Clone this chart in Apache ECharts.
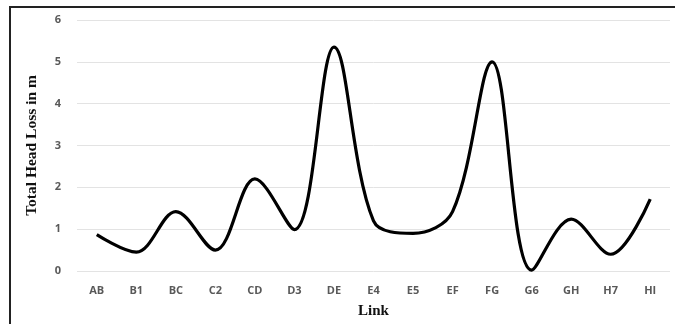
<!DOCTYPE html>
<html>
<head>
<meta charset="utf-8">
<script src="https://cdn.jsdelivr.net/npm/echarts@6/dist/echarts.min.js"></script>
<style>
html,body{margin:0;padding:0;background:#fff;}
#c{width:675px;height:324px;}
</style>
</head>
<body>
<div id="c"></div>
<script>
var categories = ['AB','B1','BC','C2','CD','D3','DE','E4','E5','EF','FG','G6','GH','H7','HI'];
var headLoss = [0.87, 0.45, 1.42, 0.5, 2.2, 0.99, 5.35, 1.2, 0.9, 1.42, 5.0, 0.02, 1.24, 0.4, 1.72];
var yTicks = [0, 1, 2, 3, 4, 5, 6];

var chart = echarts.init(document.getElementById('c'));
chart.setOption({
  animation: false,
  backgroundColor: '#fff',
  graphic: [{
    type: 'rect',
    shape: {x: 10, y: 7, width: 700, height: 400},
    style: {fill: 'none', stroke: '#222', lineWidth: 2},
    silent: true,
    z: 100
  }],
  grid: {left: 77, right: 5, top: 20, bottom: 52},
  xAxis: {
    type: 'category',
    data: categories,
    boundaryGap: true,
    axisLine: {show: false},
    axisTick: {show: false},
    axisLabel: {color: '#595959', fontFamily: 'Open Sans', fontWeight: 'bold', fontSize: 11, margin: 14},
    name: 'Link',
    nameLocation: 'middle',
    nameGap: 33,
    nameTextStyle: {fontFamily: 'Liberation Serif', fontWeight: 'bold', fontSize: 15, color: '#111'}
  },
  yAxis: {
    type: 'value',
    min: yTicks[0],
    max: yTicks[yTicks.length - 1],
    interval: 1,
    axisLine: {show: false},
    axisTick: {show: false},
    splitLine: {lineStyle: {color: '#e3e3e3', width: 1}},
    axisLabel: {color: '#595959', fontFamily: 'Open Sans', fontWeight: 'bold', fontSize: 11, margin: 16},
    name: 'Total Head Loss in m',
    nameLocation: 'middle',
    nameGap: 37,
    nameTextStyle: {fontFamily: 'Liberation Serif', fontWeight: 'bold', fontSize: 15.5, color: '#111'}
  },
  series: [{
    type: 'line',
    data: headLoss,
    smooth: 0.35,
    showSymbol: false,
    lineStyle: {color: '#000', width: 3.2}
  }]
});
</script>
</body>
</html>
